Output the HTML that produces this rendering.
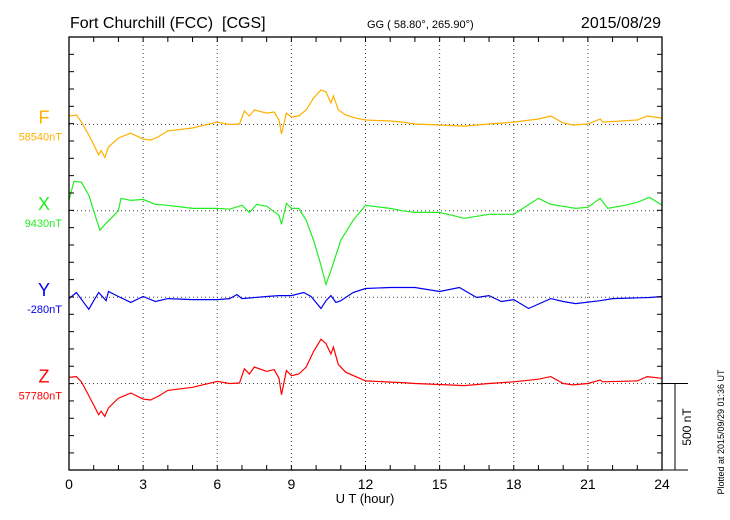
<!DOCTYPE html>
<html><head><meta charset="utf-8"><style>
body{margin:0;background:#fff;}
svg{display:block;font-family:"Liberation Sans",sans-serif;}
</style></head><body>
<svg id="chart" width="730" height="520" viewBox="0 0 730 520">
<text x="70" y="28" font-size="16">Fort Churchill (FCC)&#160; [CGS]</text>
<text x="367" y="28" font-size="11">GG ( 58.80°, 265.90°)</text>
<text x="661" y="28" font-size="16" text-anchor="end">2015/08/29</text>
<text x="365" y="503" font-size="13" text-anchor="middle">U T (hour)</text>
<text transform="translate(724,432) rotate(-90)" font-size="9" text-anchor="middle">Plotted at 2015/09/29 01:36 UT</text>
<text transform="translate(691,427) rotate(-90)" font-size="12" text-anchor="middle">500 nT</text>
<g id="grid"></g><g id="series"></g><g id="axes"></g>
</svg>
<script>
const hoursF=[0,0.3,0.5,0.8,1.2,1.3,1.45,1.6,2,2.5,3,3.3,3.6,4,5,6,6.5,6.9,7.1,7.3,7.5,8,8.3,8.5,8.6,8.8,9,9.3,9.6,9.9,10.2,10.4,10.6,10.7,10.9,11.2,11.6,12,13,13.5,14,15,16,17,18,19,19.5,20,20.4,21,21.5,21.6,23,23.4,24];
const valsF=[49,55,15,-60,-175,-150,-190,-130,-78,-50,-84,-90,-72,-37,-20,14,0,3,78,49,84,66,72,26,-55,66,43,49,84,153,199,188,124,165,84,55,37,26,20,14,3,-3,-9,3,14,32,49,9,-3,3,32,14,26,49,37];
const hoursZ=[0,0.3,0.5,0.8,1.2,1.3,1.45,1.6,2,2.5,3,3.3,3.6,4,5,6,6.5,6.9,7.1,7.3,7.5,8,8.3,8.5,8.6,8.8,9,9.3,9.6,9.9,10.2,10.4,10.6,10.7,10.9,11.2,11.6,12,13,13.5,14,15,16,17,18,19,19.5,20,20.4,21,21.5,21.6,23,23.4,24];
const valsZ=[35,40,10,-70,-180,-160,-190,-140,-85,-55,-90,-95,-75,-40,-22,12,0,3,85,55,95,70,80,30,-65,75,45,55,95,185,255,230,170,210,110,65,40,15,8,5,0,-6,-12,0,10,25,40,0,-8,0,20,10,15,40,30];
const hoursX=[0,0.2,0.5,0.8,1,1.25,1.5,2,2.1,2.5,3,3.5,4,5,6,6.5,7,7.3,7.6,8,8.5,8.6,8.8,9,9.3,9.6,9.9,10.2,10.4,10.6,11,11.5,12,13,13.5,14,15,15.5,16,16.5,17,18,18.5,19,19.5,20,20.5,21,21.5,21.8,22.5,23,23.5,24];
const valsX=[60,170,165,90,0,-112,-72,0,72,60,66,37,32,14,14,9,32,-9,37,26,-26,-78,43,14,14,-55,-170,-315,-425,-345,-170,-55,32,14,0,-9,-9,-26,-43,-32,-20,-20,26,72,37,26,14,20,72,14,32,49,78,32];
const hoursY=[0,0.3,0.8,1,1.2,1.5,1.6,2,2.5,3,3.5,4,5,6,6.5,6.8,7,8,8.5,9,9.5,9.8,10.2,10.4,10.6,10.8,11,11.5,12,13,14,15,15.8,16.5,17,17.5,18,18.6,19.5,20,20.5,21.5,22,23.5,24];
const valsY=[-8,27,-70,-20,27,-20,33,4,-30,4,-25,-8,-14,-14,-8,15,-8,4,9,9,27,4,-65,-20,9,-30,-20,27,50,56,56,33,56,-2,9,-25,-14,-65,-8,-25,-37,-20,-8,-2,4];
const xTickLabels=["0","3","6","9","12","15","18","21","24"];
const compNames=["F","X","Y","Z"];
const compBase=["58540nT","9430nT","-280nT","57780nT"];
const L=69,R=662,T=37,B=470,NS="http://www.w3.org/2000/svg";
const baseY=[124.5,210.8,297.2,383.5];
const colors=["#ffb000","#22ee22","#0000ee","#ff0000"];
const xs=h=>L+(R-L)*h/24;
const ys=(i,v)=>baseY[i]-v*(17.33/100);
function mk(tag,attrs,parent){const e=document.createElementNS(NS,tag);for(const k in attrs)e.setAttribute(k,attrs[k]);parent.appendChild(e);return e;}
const grid=document.getElementById('grid'),ser=document.getElementById('series'),ax=document.getElementById('axes');
for(let h=3;h<24;h+=3){const g=mk('line',{x1:xs(h),x2:xs(h),y1:T,y2:B,stroke:'#444','stroke-width':1,'stroke-dasharray':'1 3'},grid);

}
baseY.forEach((y,i)=>{const g=mk('line',{x1:L,x2:R,y1:y,y2:y,stroke:'#444','stroke-width':1,'stroke-dasharray':'1 3'},grid);

});
const sets=[[hoursF,valsF],[hoursX,valsX],[hoursY,valsY],[hoursZ,valsZ]];
sets.forEach((s,i)=>{const pts=s[0].map((h,j)=>xs(h).toFixed(1)+','+ys(i,s[1][j]).toFixed(1)).join(' ');
const p=mk('polyline',{points:pts,fill:'none',stroke:colors[i],'stroke-width':1.2},ser);


const t=mk('text',{x:44,y:baseY[i]-1,'font-size':18,fill:colors[i],'text-anchor':'middle'},ax);t.textContent=compNames[i];


const b=mk('text',{x:62,y:baseY[i]+16,'font-size':11,fill:colors[i],'text-anchor':'end'},ax);b.textContent=compBase[i];

});
const fr=mk('rect',{x:L,y:T,width:R-L,height:B-T,fill:'none',stroke:'#000','stroke-width':1.3},ax);


for(let h=1;h<24;h++){mk('line',{x1:xs(h),x2:xs(h),y1:T,y2:T+5,stroke:'#000'},ax);mk('line',{x1:xs(h),x2:xs(h),y1:B,y2:B-5,stroke:'#000'},ax);}
for(let y=T+17.33;y<B-1;y+=17.33){mk('line',{x1:L,x2:L+5,y1:y,y2:y,stroke:'#000'},ax);mk('line',{x1:R,x2:R-5,y1:y,y2:y,stroke:'#000'},ax);}
xTickLabels.forEach((l,i)=>{const t=mk('text',{x:xs(i*3),y:489,'font-size':14,'text-anchor':'middle'},ax);t.textContent=l;

});
const sb=mk('path',{d:`M${R} ${baseY[3]}H688M675 ${baseY[3]}V${B}M${R} ${B}H688`,stroke:'#000',fill:'none'},ax);


</script>
</body></html>
